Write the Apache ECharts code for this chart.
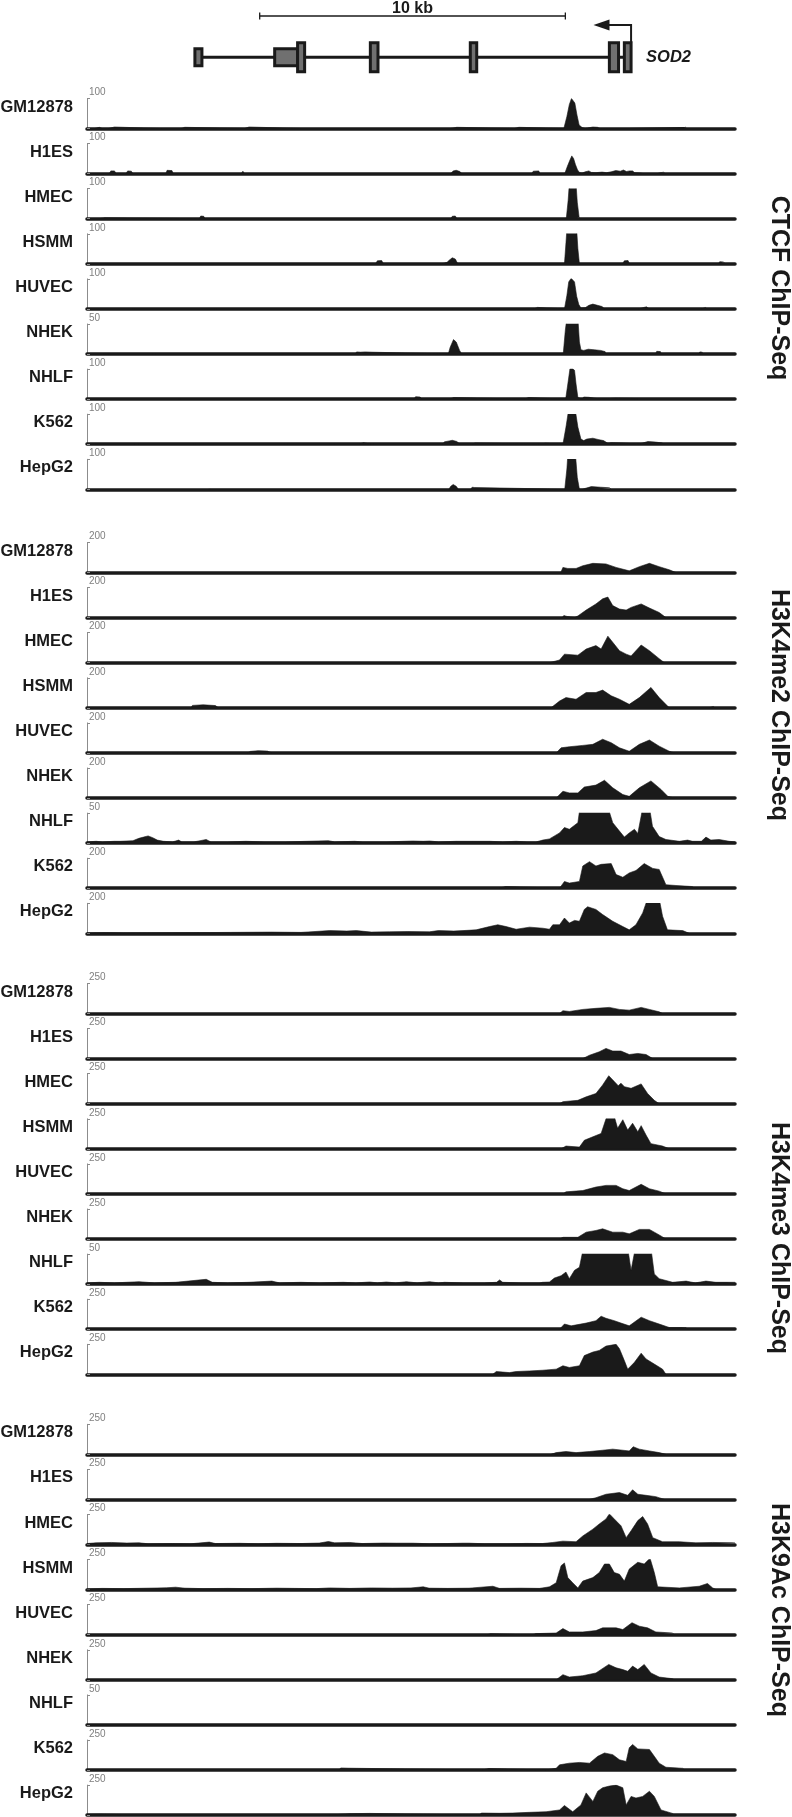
<!DOCTYPE html>
<html>
<head>
<meta charset="utf-8">
<script src="https://cdn.jsdelivr.net/npm/echarts@6/dist/echarts.min.js"></script>
<style>html,body{margin:0;padding:0;background:#fff}#c{width:792px;height:1817px}</style>
</head>
<body>
<div id="c"></div>
<script>
// ---------- DATA ----------
const cellLines = ['GM12878','H1ES','HMEC','HSMM','HUVEC','NHEK','NHLF','K562','HepG2'];
const assays = ['CTCF ChIP-Seq','H3K4me2 ChIP-Seq','H3K4me3 ChIP-Seq','H3K9Ac ChIP-Seq'];
// track scale maxima (also the tick label of each track)
const ctcfMax  = [100,100,100,100,100,50,100,100,100];
const k4me2Max = [200,200,200,200,200,200,50,200,200];
const k4me3Max = [250,250,250,250,250,250,50,250,250];
const k9acMax  = [250,250,250,250,250,250,50,250,250];

// gene model (kb)
const geneName = 'SOD2';
const geneSpan = [[3.63, 17.81]];
const exons = [[3.53,3.76,0],[6.14,6.90,0],[6.89,7.12,1],[9.27,9.52,1],[12.54,12.75,1],[17.09,17.39,1],[17.58,17.80,1]];
const tssArrow = [[17.80, 16.57]];
const scaleBar = [[5.65, 15.65, '10 kb']];

// ---- CTCF signal [kb, reads] ----
const ctcf_GM12878 = [[0.25,0],[0.3,5],[0.4,4],[0.5,0],[0.7,0],[0.75,5],[0.9,5],[0.95,0],[2.35,0],[2.4,4],[2.45,0],[3.08,0],[3.12,4],[3.2,4],[3.25,0],[5.15,0],[5.2,5],[5.3,5],[5.35,0],[6.98,0],[7.0,3],[7.03,0],[8.15,0],[8.17,4],[8.19,0],[11.9,0],[11.95,4],[12.1,4],[12.15,0],[13.98,0],[14.0,4],[14.13,4],[14.17,0],[15.6,0],[15.7,40],[15.78,80],[15.85,100],[15.9,103],[15.96,85],[16.03,45],[16.1,12],[16.2,3],[16.3,0],[16.33,5],[16.45,3],[16.55,5],[16.7,4],[16.78,0],[19.5,0],[19.52,5],[19.56,0],[19.58,5],[19.6,0]];
const ctcf_H1ES = [[0.73,0],[0.78,9],[0.9,9],[0.95,0],[1.28,0],[1.33,9],[1.45,8],[1.5,0],[2.58,0],[2.62,11],[2.78,10],[2.82,0],[5.05,0],[5.1,8],[5.15,0],[9.28,0],[9.3,3],[9.33,0],[11.9,0],[11.98,9],[12.08,11],[12.2,7],[12.26,0],[14.55,0],[14.6,8],[14.78,9],[14.82,0],[15.63,0],[15.72,25],[15.8,45],[15.86,59],[15.92,50],[15.98,30],[16.05,12],[16.12,3],[16.2,2],[16.3,6],[16.42,9],[16.5,4],[16.65,3],[16.85,5],[17.0,3],[17.15,6],[17.3,10],[17.45,8],[17.55,12],[17.65,7],[17.75,9],[17.85,9],[17.92,3],[18.1,2],[18.2,0],[18.65,0],[18.7,6],[18.87,5],[18.9,0]];
const ctcf_HMEC = [[0.4,0],[0.45,3],[0.58,3],[0.62,0],[3.68,0],[3.72,9],[3.82,8],[3.86,0],[5.62,0],[5.65,4],[5.7,0],[11.9,0],[11.95,8],[12.05,9],[12.1,0],[15.68,0],[15.74,60],[15.79,130],[15.99,130],[16.04,55],[16.1,5],[16.13,0]];
const ctcf_HSMM = [[2.85,0],[2.88,4],[2.91,0],[9.44,0],[9.5,10],[9.64,11],[9.7,0],[11.62,0],[11.66,6],[11.78,5],[11.85,12],[11.95,20],[12.05,16],[12.13,0],[15.62,0],[15.67,70],[15.71,130],[16.01,130],[16.06,50],[16.11,0],[17.52,0],[17.58,10],[17.7,11],[17.75,0],[20.66,0],[20.7,7],[20.83,6],[20.87,0]];
const ctcf_HUVEC = [[1.48,0],[1.5,3],[1.55,0],[4.18,0],[4.2,3],[4.25,0],[11.95,0],[11.97,3],[12.0,0],[14.62,0],[14.65,6],[14.74,5],[14.77,0],[15.62,0],[15.7,45],[15.76,90],[15.84,102],[15.95,90],[16.02,42],[16.09,15],[16.16,3],[16.3,4],[16.42,12],[16.55,16],[16.7,12],[16.85,8],[16.93,0],[18.05,0],[18.1,6],[18.3,7],[18.4,0],[18.75,0],[18.78,5],[18.82,0],[20.12,0],[20.15,6],[20.24,5],[20.27,0]];
const ctcf_NHEK = [[0.55,0],[0.6,3],[0.7,0],[2.15,0],[2.2,2.5],[2.25,0],[8.78,0],[8.82,3.5],[8.95,3],[9.1,3.5],[9.33,3],[9.36,0],[11.82,0],[11.88,11],[11.99,24],[12.08,20],[12.19,6],[12.26,0],[13.31,0],[13.33,2],[13.36,0],[13.69,0],[13.71,2.5],[13.75,0],[15.58,0],[15.65,40],[15.7,60],[16.06,60],[16.11,20],[16.16,7],[16.25,6],[16.4,8],[16.6,7],[16.8,6],[16.95,4],[16.98,0],[18.6,0],[18.64,4.5],[18.76,4],[18.79,0],[20.02,0],[20.05,3.5],[20.13,3],[20.16,0]];
const ctcf_NHLF = [[2.98,0],[3.0,3],[3.05,0],[6.08,0],[6.1,3],[6.15,0],[10.7,0],[10.75,8],[10.9,7],[10.95,0],[11.85,0],[11.9,6],[12.0,5],[12.03,0],[14.3,0],[14.35,6],[14.45,5],[14.49,0],[15.66,0],[15.74,57],[15.8,101],[15.88,102],[15.95,96],[16.0,50],[16.06,5],[16.1,0],[16.2,0],[16.25,7],[16.42,6],[16.46,0],[16.8,0],[16.85,3],[17.3,3],[17.9,2],[18.0,0]];
const ctcf_K562 = [[0.28,0],[0.3,3],[0.36,0],[1.55,0],[1.6,4],[1.7,0],[3.48,0],[3.5,3],[3.55,0],[6.45,0],[6.5,3],[6.56,0],[7.94,0],[8.0,3],[8.1,0],[8.9,0],[8.95,6],[9.05,5],[9.1,0],[9.28,0],[9.32,5],[9.38,0],[11.62,0],[11.7,8],[11.85,11],[11.95,13],[12.1,9],[12.2,0],[12.6,0],[12.63,4],[12.7,4],[12.73,0],[14.78,0],[14.82,4],[15.0,3],[15.03,0],[15.57,0],[15.67,57],[15.75,110],[15.98,110],[16.06,57],[16.16,17],[16.25,12],[16.35,17],[16.55,20],[16.75,15],[16.9,12],[17.04,3],[17.15,5],[17.5,4],[17.55,0],[18.05,0],[18.1,6],[18.35,9],[18.6,7],[18.83,4],[18.86,0]];
const ctcf_HepG2 = [[3.98,0],[4.0,3],[4.05,0],[11.84,0],[11.9,10],[11.98,16],[12.08,10],[12.15,0],[12.55,0],[12.6,7],[12.67,6],[12.7,0],[15.63,0],[15.7,68],[15.74,130],[15.97,130],[16.04,40],[16.11,0],[16.2,0],[16.25,6],[16.5,9],[16.8,7],[17.1,5],[17.15,0]];

// ---- H3K4me2 ----
const k4me2_GM12878 = [[15.5,0],[15.57,34],[15.73,27],[16.0,27],[16.22,45],[16.55,61],[16.98,57],[17.31,34],[17.74,11],[18.07,39],[18.4,61],[18.72,39],[19.05,18],[19.27,0]];
const k4me2_H1ES = [[15.55,0],[15.6,14],[15.7,8],[15.95,0],[16.06,11],[16.33,50],[16.65,91],[16.87,125],[17.04,137],[17.2,80],[17.42,57],[17.64,50],[17.8,68],[18.13,91],[18.4,64],[18.72,34],[18.94,0]];
const k4me2_HMEC = [[15.13,0],[15.46,18],[15.62,57],[16.06,50],[16.33,91],[16.65,114],[16.82,91],[17.04,177],[17.2,136],[17.42,80],[17.64,57],[17.8,45],[18.13,118],[18.4,80],[18.72,27],[18.89,0]];
const k4me2_HSMM = [[3.4,0],[3.45,16],[3.8,20],[4.2,15],[4.3,0],[15.18,0],[15.46,45],[15.67,68],[16.0,57],[16.33,102],[16.65,102],[16.87,118],[17.15,80],[17.42,57],[17.74,23],[18.07,68],[18.45,136],[18.72,68],[19.05,0],[20.35,0],[20.4,11],[20.5,9],[20.53,0]];
const k4me2_HUVEC = [[2.8,0],[2.85,8],[2.95,0],[5.25,0],[5.35,10],[5.6,15],[5.9,12],[6.05,0],[15.35,0],[15.51,34],[15.78,41],[16.22,50],[16.55,57],[16.87,91],[17.15,68],[17.42,34],[17.74,11],[18.07,57],[18.4,86],[18.72,45],[19.05,11],[19.21,0]];
const k4me2_NHEK = [[15.35,0],[15.57,45],[15.78,34],[16.06,34],[16.27,73],[16.65,86],[16.93,118],[17.2,68],[17.53,23],[17.74,11],[18.07,68],[18.45,114],[18.78,57],[19.0,11],[19.21,0]];
const k4me2_NHLF = [[0,2],[0.3,3],[0.5,2],[0.9,3],[0.95,6],[1.1,3],[1.5,4],[1.7,8],[1.85,10],[2.0,12],[2.15,9],[2.3,5],[2.5,3],[2.8,2],[3.0,5],[3.1,2],[3.5,2],[3.9,6],[4.05,2],[4.6,2],[5.2,3],[5.8,2],[6.5,2],[7.2,3],[7.9,4],[8.1,2],[8.76,3],[9.0,2],[9.8,2],[10.66,3.5],[11.0,3],[11.21,3.5],[11.5,2],[12.08,3],[12.6,3],[13.17,3],[13.6,2],[14.04,3],[14.4,2],[14.69,2],[14.91,5],[15.13,7],[15.46,17],[15.62,26],[15.78,23],[16.06,34],[16.13,60],[17.04,60],[17.2,34],[17.42,20],[17.58,10],[17.74,17],[17.91,23],[18.02,16],[18.13,45],[18.18,60],[18.4,60],[18.5,28],[18.72,11],[18.94,6],[19.38,3],[19.65,5],[19.81,3],[20.1,3],[20.25,10],[20.41,5],[20.68,6],[21.01,3],[21.2,2]];
const k4me2_K562 = [[13.48,0],[13.5,11],[13.7,11],[13.72,0],[15.46,0],[15.62,45],[15.78,34],[16.11,45],[16.22,148],[16.44,177],[16.65,148],[16.82,159],[17.15,164],[17.31,91],[17.53,73],[17.74,102],[17.96,118],[18.23,164],[18.51,132],[18.72,125],[18.94,23],[19.27,18],[19.81,11],[19.87,0]];
const k4me2_HepG2 = [[0.0,3],[0.6,5],[1.2,3],[2.0,4],[4.0,5],[4.7,6],[6.0,8],[7.0,6],[7.94,18],[8.5,15],[8.81,18],[9.3,8],[9.9,10],[10.5,12],[11.2,10],[11.5,18],[12.0,15],[12.3,18],[12.73,23],[13.17,45],[13.44,57],[13.71,45],[14.04,27],[14.48,41],[14.91,34],[15.13,27],[15.24,57],[15.46,57],[15.62,102],[15.78,68],[15.95,86],[16.11,80],[16.27,159],[16.38,177],[16.65,159],[16.87,125],[17.2,80],[17.53,45],[17.74,23],[17.96,57],[18.18,136],[18.34,230],[18.72,230],[18.83,114],[18.99,23],[19.49,18],[19.7,0]];

// ---- H3K4me3 ----
const k4me3_GM12878 = [[15.46,0],[15.57,23],[15.78,17],[16.22,34],[16.65,43],[17.09,51],[17.42,34],[17.74,28],[18.13,51],[18.4,34],[18.72,14],[18.83,0]];
const k4me3_H1ES = [[16.22,0],[16.44,28],[16.76,57],[16.98,85],[17.2,63],[17.47,63],[17.74,34],[18.02,43],[18.29,34],[18.51,0]];
const k4me3_HMEC = [[15.46,0],[15.57,17],[16.06,28],[16.33,57],[16.65,85],[16.87,156],[17.07,233],[17.25,185],[17.38,150],[17.47,171],[17.58,142],[17.8,128],[18.13,165],[18.34,85],[18.56,28],[18.72,0]];
const k4me3_HSMM = [[15.51,0],[15.67,23],[16.11,14],[16.27,71],[16.55,100],[16.82,128],[16.98,250],[17.04,270],[17.25,270],[17.36,171],[17.53,242],[17.69,156],[17.85,213],[18.02,142],[18.13,193],[18.29,114],[18.45,43],[18.83,23],[19.05,0]];
const k4me3_HUVEC = [[15.57,0],[15.67,17],[16.22,28],[16.65,57],[16.98,71],[17.31,71],[17.53,43],[17.74,28],[18.13,80],[18.4,43],[18.72,23],[18.94,0]];
const k4me3_NHEK = [[15.46,0],[15.57,14],[16.06,14],[16.33,57],[16.65,71],[16.87,85],[17.2,57],[17.53,57],[17.74,43],[18.07,80],[18.4,80],[18.72,34],[18.94,0]];
const k4me3_NHLF = [[0,2],[0.4,3],[0.9,2],[1.7,4],[2.2,2],[2.9,3],[3.9,8],[4.1,3],[4.6,2],[5.3,3],[6.05,5],[6.3,2],[7.0,3],[7.6,2],[8.38,3],[8.8,2],[9.25,3.5],[9.5,2],[9.79,3.5],[10.1,2],[10.45,4],[10.8,2],[11.21,4],[11.5,2],[11.7,3],[12.3,2],[13.0,2],[13.4,3],[13.5,7],[13.6,3],[14.2,2],[14.8,2],[14.91,3],[15.13,3.5],[15.29,10],[15.51,14],[15.67,20],[15.78,9],[15.95,23],[16.11,28],[16.24,60],[17.69,60],[17.8,23],[17.94,60],[18.45,60],[18.56,17],[18.72,9],[19.16,3],[19.6,5],[19.9,2],[20.25,5],[20.57,3],[21.2,3]];
const k4me3_K562 = [[15.46,0],[15.62,43],[15.84,28],[16.33,51],[16.65,71],[16.82,108],[16.98,91],[17.25,71],[17.47,51],[17.74,28],[18.13,100],[18.4,71],[18.72,43],[19.05,14],[19.6,14],[19.65,0]];
const k4me3_HepG2 = [[13.28,0],[13.39,23],[13.82,14],[14.04,23],[14.48,28],[14.91,34],[15.35,43],[15.57,71],[15.78,57],[16.11,71],[16.27,156],[16.55,185],[16.76,199],[16.98,235],[17.04,250],[17.31,250],[17.42,213],[17.58,114],[17.69,43],[17.91,100],[18.13,176],[18.29,128],[18.56,85],[18.83,43],[18.94,0]];

// ---- H3K9Ac ----
const k9ac_GM12878 = [[15.18,0],[15.35,14],[15.67,23],[16.0,14],[16.44,23],[16.87,34],[17.2,43],[17.53,34],[17.74,28],[17.87,63],[18.07,43],[18.4,28],[18.72,14],[18.94,0]];
const k9ac_H1ES = [[16.44,0],[16.65,14],[16.98,43],[17.42,57],[17.69,34],[17.85,80],[18.02,43],[18.29,34],[18.61,23],[18.89,0]];
const k9ac_HMEC = [[0,8],[0.3,14],[0.8,17],[1.3,12],[1.7,14],[2.0,6],[2.8,8],[3.4,6],[4.0,20],[4.2,8],[5.0,10],[5.6,6],[6.2,10],[7.0,8],[7.6,12],[7.9,25],[8.1,14],[8.6,17],[9.0,8],[9.7,12],[10.12,11],[10.66,11],[11.2,6],[11.8,8],[12.3,11],[12.5,11],[13.0,6],[13.8,6],[14.37,9],[14.9,8],[15.24,17],[15.57,28],[16.0,23],[16.22,71],[16.55,128],[16.76,171],[16.98,213],[17.09,255],[17.25,213],[17.47,156],[17.64,57],[17.8,114],[18.02,199],[18.18,233],[18.34,171],[18.51,57],[18.83,23],[19.38,23],[19.92,14],[20.47,17],[21.2,14]];
const k9ac_HSMM = [[0,6],[0.5,10],[1.2,8],[2.0,12],[2.6,15],[2.9,20],[3.2,12],[3.8,8],[4.6,10],[5.4,8],[6.2,12],[6.8,10],[7.5,8],[7.94,14],[8.6,10],[9.3,14],[10.0,12],[10.6,14],[11.0,23],[11.2,12],[11.8,10],[12.5,12],[13.28,28],[13.5,10],[14.2,12],[14.8,10],[15.13,23],[15.35,57],[15.51,199],[15.62,222],[15.73,100],[15.89,57],[16.06,14],[16.22,71],[16.55,100],[16.76,142],[16.93,213],[17.09,213],[17.25,142],[17.42,128],[17.58,71],[17.74,171],[18.02,228],[18.23,213],[18.42,262],[18.56,142],[18.67,23],[19.38,14],[20.03,28],[20.3,51],[20.47,14],[20.58,0]];
const k9ac_HUVEC = [[13.1,0],[13.2,8],[13.5,6],[14.2,0],[14.58,0],[14.69,9],[15.35,14],[15.57,51],[15.78,23],[16.22,23],[16.65,34],[16.87,57],[17.31,57],[17.53,43],[17.83,100],[18.07,71],[18.34,57],[18.61,23],[19.16,14],[19.21,0]];
const k9ac_NHEK = [[13.55,0],[13.6,12],[13.65,0],[15.35,0],[15.57,43],[15.78,23],[16.22,34],[16.65,57],[17.07,128],[17.31,100],[17.53,85],[17.69,71],[17.85,114],[18.02,85],[18.23,128],[18.45,57],[18.72,23],[19.16,9],[19.21,0]];
const k9ac_NHLF = [[0,0],[21.2,0]];
const k9ac_K562 = [[8.25,0],[8.3,17],[8.55,15],[8.6,0],[12.93,0],[12.97,14],[13.15,12],[13.18,0],[15.0,0],[15.02,14],[15.35,14],[15.46,43],[15.78,57],[16.11,63],[16.44,57],[16.71,114],[16.93,142],[17.2,128],[17.42,85],[17.64,71],[17.74,185],[17.85,213],[18.02,176],[18.4,171],[18.56,114],[18.72,57],[18.94,23],[19.49,14],[19.55,0]];
const k9ac_HepG2 = [[0,6],[0.4,8],[1.0,5],[1.1,0],[7.94,0],[8.0,14],[8.6,12],[9.25,14],[9.3,0],[12.84,0],[12.9,17],[13.5,15],[13.93,17],[14.48,23],[15.02,28],[15.46,43],[15.62,80],[15.89,28],[16.16,85],[16.33,185],[16.55,114],[16.71,199],[16.87,228],[17.09,242],[17.31,250],[17.53,228],[17.64,85],[17.8,156],[17.96,142],[18.18,156],[18.4,199],[18.56,156],[18.78,43],[19.16,14],[19.21,0]];

const ctcfTracks  = [ctcf_GM12878, ctcf_H1ES, ctcf_HMEC, ctcf_HSMM, ctcf_HUVEC, ctcf_NHEK, ctcf_NHLF, ctcf_K562, ctcf_HepG2];
const k4me2Tracks = [k4me2_GM12878, k4me2_H1ES, k4me2_HMEC, k4me2_HSMM, k4me2_HUVEC, k4me2_NHEK, k4me2_NHLF, k4me2_K562, k4me2_HepG2];
const k4me3Tracks = [k4me3_GM12878, k4me3_H1ES, k4me3_HMEC, k4me3_HSMM, k4me3_HUVEC, k4me3_NHEK, k4me3_NHLF, k4me3_K562, k4me3_HepG2];
const k9acTracks  = [k9ac_GM12878, k9ac_H1ES, k9ac_HMEC, k9ac_HSMM, k9ac_HUVEC, k9ac_NHEK, k9ac_NHLF, k9ac_K562, k9ac_HepG2];

// ---------- LAYOUT ----------
const XMAX = 21.2;
const PLOT_LEFT = 87, PLOT_W = 648;
const firstBaseline = [128.5, 572.5, 1013.5, 1454.3];
const trackStep = 45.1, trackH = 30;
const titleCenterY = [288, 705, 1238, 1610];
const FONT = "'Liberation Sans', Arial, Helvetica, sans-serif";
const INK = '#1a1a1a';
const GENE_Y = 57.3;

const groupTracks = [ctcfTracks, k4me2Tracks, k4me3Tracks, k9acTracks];
const groupMax = [ctcfMax, k4me2Max, k4me3Max, k9acMax];

const option = {animation:false, backgroundColor:'#ffffff', grid:[], xAxis:[], yAxis:[], series:[], title:[], graphic:[]};

let idx = 0;
for (let g = 0; g < 4; g++) {
  for (let t = 0; t < cellLines.length; t++) {
    const base = firstBaseline[g] + t * trackStep;
    const m = groupMax[g][t];
    option.grid.push({left:PLOT_LEFT, width:PLOT_W, top: base - trackH, height: trackH});
    option.xAxis.push({type:'value', gridIndex: idx, min:0, max:XMAX,
      axisLine:{show:true, onZero:false, lineStyle:{color:INK, width:3.5}},
      axisTick:{show:false}, axisLabel:{show:false}, splitLine:{show:false}});
    option.yAxis.push({type:'value', gridIndex: idx, min:0, max:m, interval:m,
      name:String(m), nameLocation:'end', nameGap:1,
      nameTextStyle:{fontSize:10, color:'#808080', align:'left', verticalAlign:'bottom', padding:[0,0,0,2], fontFamily:FONT},
      axisLine:{show:true, lineStyle:{color:'#8c8c8c', width:1}},
      axisTick:{show:true, inside:true, length:3, lineStyle:{color:'#8c8c8c', width:1}},
      axisLabel:{show:false}, splitLine:{show:false}});
    option.series.push({type:'line', xAxisIndex: idx, yAxisIndex: idx, data: groupTracks[g][t],
      symbol:'none', silent:true, clip:true,
      lineStyle:{width:0.6, color:INK}, areaStyle:{color:INK, opacity:1}});
    option.title.push({text: cellLines[t], right: 792 - 73, top: base - 21.5 - 9.5, padding:0,
      textStyle:{fontSize:16.5, fontWeight:'bold', color:INK, fontFamily:FONT, lineHeight:19}});
    idx++;
  }
  option.graphic.push({type:'text', x:779, y:titleCenterY[g], rotation:-Math.PI/2,
    style:{text:assays[g], font:"bold 25px " + FONT, fill:INK,
      align:'center', verticalAlign:'middle', textAlign:'center', textVerticalAlign:'middle'}});
}

// gene model grid
const gi = idx;
option.grid.push({left:PLOT_LEFT, width:PLOT_W, top:0, height:100});
option.xAxis.push({type:'value', gridIndex:gi, min:0, max:XMAX, show:false});
option.yAxis.push({type:'value', gridIndex:gi, min:0, max:100, show:false});
const px = (api, v) => api.coord([v, 0])[0];

option.series.push({type:'custom', xAxisIndex:gi, yAxisIndex:gi, silent:true, data: geneSpan, z:3,
  renderItem:(p, api) => ({type:'line', shape:{x1:px(api, api.value(0)), y1:GENE_Y, x2:px(api, api.value(1)), y2:GENE_Y},
    style:{stroke:INK, lineWidth:3}})});
option.series.push({type:'custom', xAxisIndex:gi, yAxisIndex:gi, silent:true, data: exons, z:4,
  renderItem:(p, api) => {
    const x1 = px(api, api.value(0)), x2 = px(api, api.value(1));
    const h = api.value(2) ? 29 : 17;
    return {type:'rect', shape:{x:x1, y:GENE_Y - h/2, width:x2 - x1, height:h},
      style:{fill:'#707070', stroke:INK, lineWidth:3}};
  }});
option.series.push({type:'custom', xAxisIndex:gi, yAxisIndex:gi, silent:true, data: tssArrow, z:4,
  renderItem:(p, api) => {
    const xt = px(api, api.value(0)), xh = px(api, api.value(1));
    const ya = 25;
    return {type:'group', children:[
      {type:'polyline', shape:{points:[[xt, GENE_Y - 14.5], [xt, ya], [xh + 14, ya]]}, style:{stroke:INK, lineWidth:2, fill:null}},
      {type:'polygon', shape:{points:[[xh, ya], [xh + 16, ya - 5.5], [xh + 16, ya + 5.5]]}, style:{fill:INK}},
      {type:'text', style:{text:geneName, x:xt + 15, y:GENE_Y, font:"italic bold 16.5px " + FONT, fill:INK,
        align:'left', verticalAlign:'middle', textAlign:'left', textVerticalAlign:'middle'}}
    ]};
  }});
option.series.push({type:'custom', xAxisIndex:gi, yAxisIndex:gi, silent:true, data: scaleBar, z:4,
  renderItem:(p, api) => {
    const x1 = px(api, api.value(0)), x2 = px(api, api.value(1));
    const y = 16;
    return {type:'group', children:[
      {type:'line', shape:{x1, y1:y, x2, y2:y}, style:{stroke:INK, lineWidth:1.3}},
      {type:'line', shape:{x1:x1, y1:y - 3.5, x2:x1, y2:y + 3.5}, style:{stroke:INK, lineWidth:1.3}},
      {type:'line', shape:{x1:x2, y1:y - 3.5, x2:x2, y2:y + 3.5}, style:{stroke:INK, lineWidth:1.3}},
      {type:'text', style:{text:scaleBar[0][2], x:(x1 + x2) / 2, y:8.5, font:"bold 16px " + FONT, fill:INK,
        align:'center', verticalAlign:'middle', textAlign:'center', textVerticalAlign:'middle'}}
    ]};
  }});

const chart = echarts.init(document.getElementById('c'), null, {renderer:'canvas'});
chart.setOption(option);
</script>
</body>
</html>
